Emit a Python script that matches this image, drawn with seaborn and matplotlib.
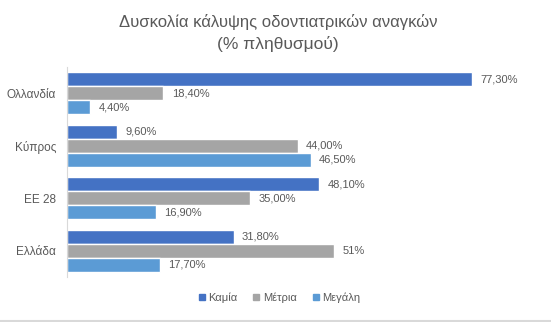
import matplotlib
matplotlib.use("Agg")
import matplotlib.pyplot as plt
import seaborn as sns
import pandas as pd
from matplotlib.lines import Line2D

# Data: share of population with difficulty covering dental needs
countries = ["Ολλανδία", "Κύπρος", "ΕΕ 28", "Ελλάδα"]
levels = ["Καμία", "Μέτρια", "Μεγάλη"]
kamia = [77.3, 9.6, 48.1, 31.8]
metria = [18.4, 44.0, 35.0, 51.0]
megali = [4.4, 46.5, 16.9, 17.7]
colors = ["#4472C4", "#A5A5A5", "#5B9BD5"]

# values shown without decimals in their labels
whole_labels = {("Ελλάδα", "Μέτρια")}

rows = []
for lvl, vals in zip(levels, [kamia, metria, megali]):
    for c, v in zip(countries, vals):
        rows.append({"country": c, "level": lvl, "value": v})
df = pd.DataFrame(rows)

sns.set_theme(style="white")
plt.rcParams["font.family"] = ["Liberation Sans", "DejaVu Sans"]
text_color = "#595959"

fig = plt.figure(figsize=(5.51, 3.22), dpi=100)
ax = fig.add_axes([67 / 551, 1 - 277 / 322, 471.6 / 551, 210 / 322])

sns.barplot(data=df, y="country", x="value", hue="level", order=countries,
            hue_order=levels, palette=colors, orient="h", width=0.8,
            saturation=1, ax=ax, legend=False)

for container, lvl in zip(ax.containers, levels):
    labels = []
    for c, v in zip(countries, df[df.level == lvl]["value"]):
        if (c, lvl) in whole_labels:
            labels.append(f"{v:.0f}%")
        else:
            labels.append(f"{v:.2f}".replace(".", ",") + "%")
    ax.bar_label(container, labels=labels, padding=6, fontsize=8,
                 color=text_color)

ax.set_xlim(0, 90)
ax.set_ylim(3.5, -0.5)
ax.set_xlabel("")
ax.set_ylabel("")
ax.set_xticks([])
ax.tick_params(axis="y", length=0, pad=8, labelsize=8.5, labelcolor=text_color)
for side in ["top", "right", "bottom"]:
    ax.spines[side].set_visible(False)
ax.spines["left"].set_color("#D9D9D9")
ax.spines["left"].set_linewidth(0.8)

fig.text(0.505, 1 - 22 / 322, "Δυσκολία κάλυψης οδοντιατρικών αναγκών",
         ha="center", va="center", fontsize=12, color=text_color)
fig.text(0.505, 1 - 44 / 322, "(% πληθυσμού)",
         ha="center", va="center", fontsize=12.5, color=text_color)

handles = [Line2D([], [], marker="s", linestyle="", markersize=5,
                  markerfacecolor=col, markeredgecolor=col) for col in colors]
fig.legend(handles, levels, loc="center", bbox_to_anchor=(0.505, 1 - 298 / 322),
           ncol=3, frameon=False, fontsize=8, labelcolor=text_color,
           handletextpad=0.1, columnspacing=1.2, handlelength=1.0)

# thin frame line along the bottom edge
fig.add_artist(Line2D([0, 1], [0.003, 0.003], color="#D9D9D9", linewidth=1.5,
                      transform=fig.transFigure))

fig.savefig("out.png", dpi=100, facecolor="white")
